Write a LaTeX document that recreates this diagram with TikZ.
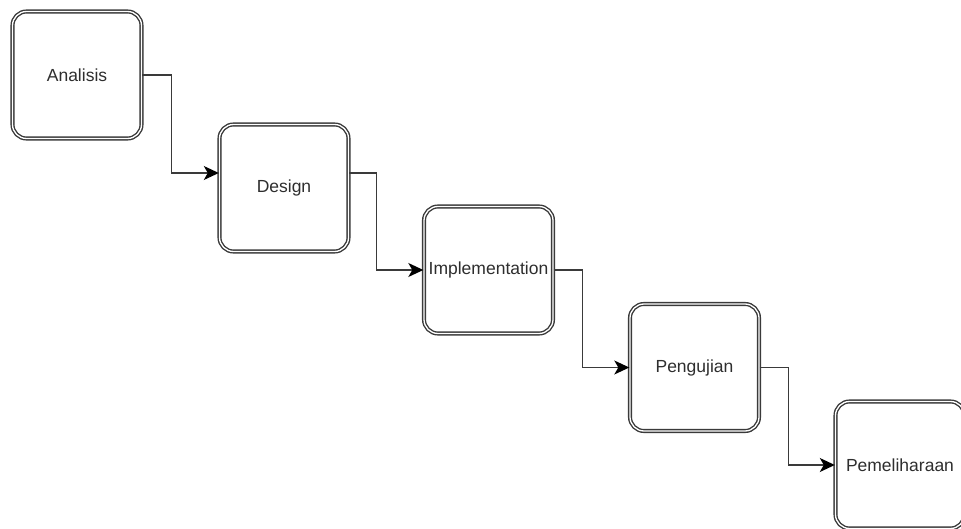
\documentclass[tikz,border=0pt]{standalone}
\usepackage{fontspec}
\setmainfont{Liberation Sans}
\usetikzlibrary{arrows.meta}
\definecolor{edgegray}{HTML}{3A3A3A}
\definecolor{txtgray}{HTML}{2E2E2E}
\tikzset{
  phase/.style={draw=edgegray, double=white, line width=1.4pt, double distance=1.3pt,
    rounded corners=14pt, fill=white, minimum width=129pt, minimum height=127pt,
    inner sep=0pt, text=txtgray, font=\fontsize{17.5}{20}\selectfont},
  flow/.style={draw=edgegray, line width=1.4pt,
    -{Stealth[length=15pt,width=14pt,inset=4pt,color=black]}}
}
\begin{document}
\begin{tikzpicture}[x=1pt,y=-1pt]
  \useasboundingbox (0,0) rectangle (961,529);
  \clip (0,0) rectangle (961,529);

  % waterfall stages
  \node[phase] (b1) at (77,75)     {Analisis};
  \node[phase] (b2) at (284,188)   {Design};
  \node[phase] (b3) at (488.5,270) {Implementation};
  \node[phase] (b4) at (694.5,367.5) {Pengujian};
  \node[phase] (b5) at (900,465)   {Pemeliharaan};

  % elbow connectors between consecutive stages
  \draw[flow] (b1.east) -- ++(29,0) |- ([yshift=15pt]b2.west);
  \draw[flow] ([yshift=15pt]b2.east) -- ++(27,0) |- (b3.west);
  \draw[flow] (b3.east) -- ++(29,0) |- (b4.west);
  \draw[flow] (b4.east) -- ++(29,0) |- (b5.west);
\end{tikzpicture}
\end{document}
